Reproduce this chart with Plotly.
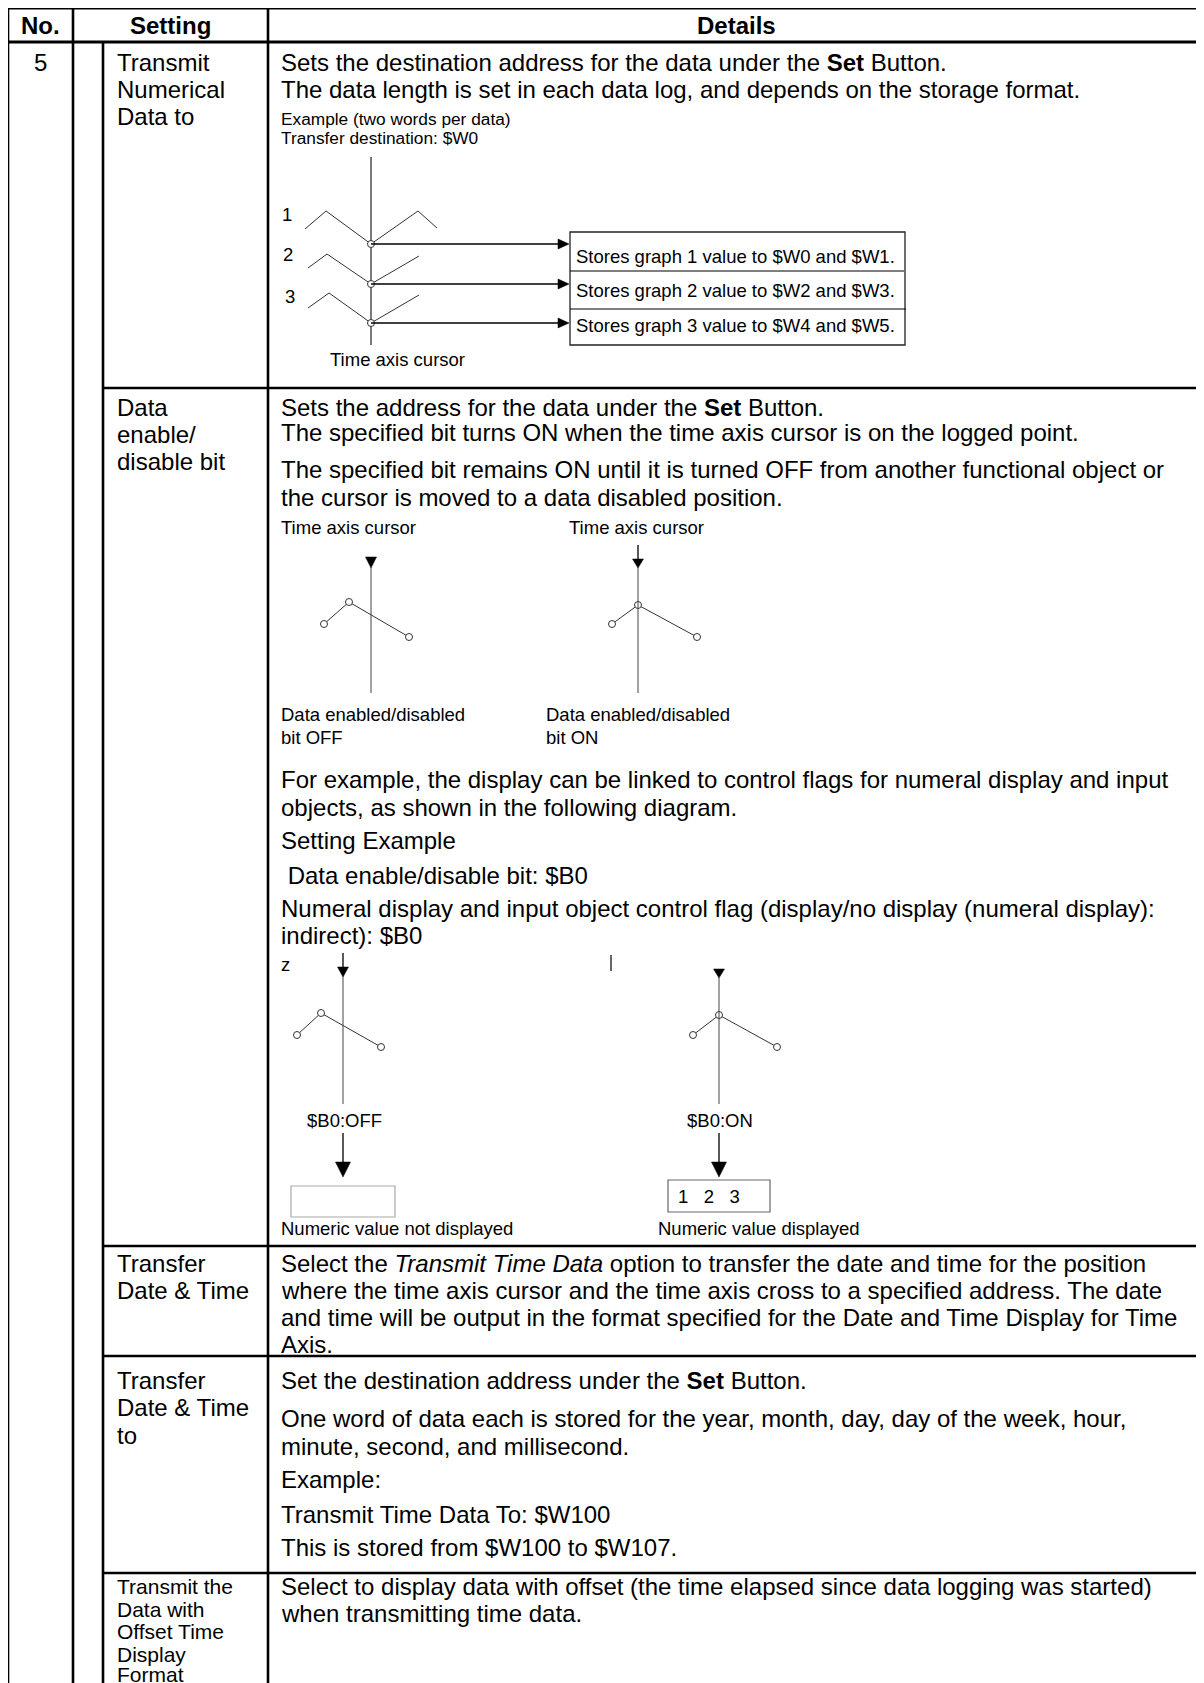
import plotly.graph_objects as go

W, H = 1204, 1683
OFF = 8  # browser body margin; data coordinates are page pixels
FONT = "Liberation Sans, Arial, Helvetica, sans-serif"
BODY = 24
SMALL = 18.5
NOTE = 17.3

# ---------------- table content ----------------
HEADERS = ["No.", "Setting", "Details"]
ITEM_NO = "5"

SETTING_ROWS = [
    ["Transmit", "Numerical", "Data to"],
    ["Data", "enable/", "disable bit"],
    ["Transfer", "Date & Time"],
    ["Transfer", "Date & Time", "to"],
    ["Transmit the", "Data with", "Offset Time", "Display", "Format"],
]
SETTING_Y = [
    [62, 89, 116],
    [407, 434, 461],
    [1263, 1290],
    [1380, 1407, 1435],
    [1586, 1609, 1631, 1654, 1674],
]

DETAIL_LINES = [
    "Sets the destination address for the data under the <b>Set</b> Button.",
    "The data length is set in each data log, and depends on the storage format.",
    "Sets the address for the data under the <b>Set</b> Button.",
    "The specified bit turns ON when the time axis cursor is on the logged point.",
    "The specified bit remains ON until it is turned OFF from another functional object or",
    "the cursor is moved to a data disabled position.",
    "For example, the display can be linked to control flags for numeral display and input",
    "objects, as shown in the following diagram.",
    "Setting Example",
    " Data enable/disable bit: $B0",
    "Numeral display and input object control flag (display/no display (numeral display):",
    "indirect): $B0",
    "Select the <i>Transmit Time Data</i> option to transfer the date and time for the position",
    "where the time axis cursor and the time axis cross to a specified address. The date",
    "and time will be output in the format specified for the Date and Time Display for Time",
    "Axis.",
    "Set the destination address under the <b>Set</b> Button.",
    "One word of data each is stored for the year, month, day, day of the week, hour,",
    "minute, second, and millisecond.",
    "Example:",
    "Transmit Time Data To: $W100",
    "This is stored from $W100 to $W107.",
    "Select to display data with offset (the time elapsed since data logging was started)",
    "when transmitting time data.",
]
DETAIL_Y = [62, 89,
            407, 432, 469, 497,
            779, 807, 840, 875, 908, 935,
            1263, 1290, 1317, 1344,
            1380, 1418, 1446, 1479, 1514, 1547,
            1586, 1613]

# ---------------- diagram content ----------------
EXAMPLE_NOTES = ["Example (two words per data)", "Transfer destination: $W0"]
GRAPH_LABELS = ["1", "2", "3"]
GRAPH_X = [[305, 326, 371, 418, 437], [308, 327, 371, 419], [308, 329, 371, 419]]
GRAPH_Y = [[229, 211, 244, 211, 228], [268, 254, 284, 256], [308, 293, 323, 295]]
STORE_TEXT = ["Stores graph 1 value to $W0 and $W1.",
              "Stores graph 2 value to $W2 and $W3.",
              "Stores graph 3 value to $W4 and $W5."]

BIT_CAPTIONS = [["Data enabled/disabled", "bit OFF"], ["Data enabled/disabled", "bit ON"]]
BIT_X = [[324, 349, 409], [612, 638, 697]]
BIT_Y = [[624, 602, 637], [624, 605, 637]]

FLAG_X = [[297, 321, 381], [693, 719, 777]]
FLAG_Y = [[1035, 1013, 1047], [1035, 1015, 1047]]
FLAG_STATE = ["$B0:OFF", "$B0:ON"]
FLAG_RESULT = ["Numeric value not displayed", "Numeric value displayed"]
FLAG_VALUE = ["", "1   2   3"]

fig = go.Figure()
shapes = []
ann = []
CIRCLE = dict(symbol="circle", size=7, color="white", line=dict(color="#333", width=1))


def text(x, y, s, size=BODY, anchor="left", bold=False):
    ann.append(dict(x=x, y=y, xref="x", yref="y", text=(f"<b>{s}</b>" if bold else s),
                    showarrow=False, xanchor=anchor, yanchor="middle",
                    font=dict(family=FONT, size=size, color="black")))


def line(x0, y0, x1, y1, w=1.0, c="black"):
    shapes.append(dict(type="line", x0=x0, y0=y0, x1=x1, y1=y1, xref="x", yref="y",
                       line=dict(color=c, width=w)))


def tri_down(x, ytop, ybot, half):
    shapes.append(dict(type="path", xref="x", yref="y",
                       path=f"M {x-half} {ytop} L {x+half} {ytop} L {x} {ybot} Z",
                       fillcolor="black", line=dict(color="black", width=0.5)))


def tri_right(xtip, y, length, half):
    shapes.append(dict(type="path", xref="x", yref="y",
                       path=f"M {xtip-length} {y-half} L {xtip-length} {y+half} L {xtip} {y} Z",
                       fillcolor="black", line=dict(color="black", width=0.5)))


def rect(x0, y0, x1, y1, c="black", w=1.0):
    shapes.append(dict(type="rect", xref="x", yref="y", x0=x0, y0=y0, x1=x1, y1=y1,
                       line=dict(color=c, width=w), fillcolor="rgba(0,0,0,0)"))


# ---------------- table grid ----------------
XL, XNO, XSUB, XSET, XR = 8, 73, 103, 268, 1204
TW = 2.6
line(XL, 8, XR, 8, 3)
line(XL, 42, XR, 42, 3)
for yy in [388, 1246, 1356, 1573]:
    line(XSUB, yy, XR, yy, TW)
line(XL, 7, XL, H, TW)
line(XNO, 7, XNO, H, TW)
line(XSUB, 42, XSUB, H, TW)
line(XSET, 7, XSET, H, TW)

text(40, 25, HEADERS[0], size=24, anchor="center", bold=True)
text((XNO + XSET) / 2, 25, HEADERS[1], size=24, anchor="center", bold=True)
text((XSET + XR) / 2, 25, HEADERS[2], size=24, anchor="center", bold=True)
text(40, 62, ITEM_NO, anchor="center")

for i, (rows, ys) in enumerate(zip(SETTING_ROWS, SETTING_Y)):
    for s, yy in zip(rows, ys):
        text(115, yy, s, size=(21 if i == 4 else BODY))

for s, yy in zip(DETAIL_LINES, DETAIL_Y):
    text(279, yy, s)

# ---------------- diagram 1 ----------------
text(279, 119, EXAMPLE_NOTES[0], size=NOTE)
text(279, 138, EXAMPLE_NOTES[1], size=NOTE)
fig.add_trace(go.Scatter(x=[371, 371], y=[157, 345], mode="lines",
                         line=dict(color="#222", width=1.2), hoverinfo="skip"))
lab_x = [287, 288, 290]
lab_y = [214, 254, 296]
for gx, gy, lx, ly, lab in zip(GRAPH_X, GRAPH_Y, lab_x, lab_y, GRAPH_LABELS):
    fig.add_trace(go.Scatter(x=gx, y=gy, mode="lines", line=dict(color="#333", width=1),
                             hoverinfo="skip"))
    text(lx, ly, lab, size=SMALL, anchor="center")
arrow_y = [GRAPH_Y[0][2], GRAPH_Y[1][2], GRAPH_Y[2][2]]
for ay in arrow_y:
    line(371, ay, 560, ay, 1.3)
    tri_right(569, ay, 11, 5)
fig.add_trace(go.Scatter(x=[371, 371, 371], y=arrow_y, mode="markers",
                         marker=CIRCLE, hoverinfo="skip"))
rect(570, 232, 905, 345, c="#222", w=1.3)
line(570, 271, 904, 271, 1.2)
line(570, 309, 906, 309, 1.2)
for s, yy in zip(STORE_TEXT, [256, 290, 325]):
    text(574, yy, s, size=SMALL)
text(397, 359, "Time axis cursor", size=SMALL, anchor="center")

# ---------------- diagram 2 (bit OFF / ON) ----------------
cur_x = [371, 638]
for k in range(2):
    cx = cur_x[k]
    if k == 1:
        line(cx, 545, cx, 560, 1.3)
    tri_down(cx, 557 if k == 0 else 559, 568, 5.5)
    line(cx, 566, cx, 693, 1.0, "#444")
    fig.add_trace(go.Scatter(x=BIT_X[k], y=BIT_Y[k], mode="lines+markers",
                             line=dict(color="#333", width=1),
                             marker=CIRCLE, hoverinfo="skip"))
text(279, 527, "Time axis cursor", size=SMALL)
text(567, 527, "Time axis cursor", size=SMALL)
for k, cx in enumerate([279, 544]):
    text(cx, 714, BIT_CAPTIONS[k][0], size=SMALL)
    text(cx, 737, BIT_CAPTIONS[k][1], size=SMALL)

# ---------------- diagram 3 (flag OFF / ON) ----------------
text(285, 964, "z", size=SMALL, anchor="center")
line(611, 955, 611, 971, 1.2)
fx = [343, 719]
boxes = [(291, 1186, 395, 1217), (668, 1180, 770, 1212)]
for k in range(2):
    cx = fx[k]
    if k == 0:
        line(cx, 953, cx, 969, 1.3)
        tri_down(cx, 967, 977, 5.5)
    else:
        tri_down(cx, 969, 978, 5.5)
    line(cx, 976, cx, 1104, 1.0, "#444")
    fig.add_trace(go.Scatter(x=FLAG_X[k], y=FLAG_Y[k], mode="lines+markers",
                             line=dict(color="#333", width=1),
                             marker=CIRCLE, hoverinfo="skip"))
    text(cx + 1, 1120, FLAG_STATE[k], size=SMALL, anchor="center")
    line(cx, 1133, cx, 1165, 1.3)
    tri_down(cx, 1162, 1177, 7.5)
    x0, y0, x1, y1 = boxes[k]
    rect(x0, y0, x1, y1, c=("#aaa" if k == 0 else "#666"), w=1.2)
    if FLAG_VALUE[k]:
        text(x0 + 8, (y0 + y1) / 2, FLAG_VALUE[k], size=SMALL)
text(279, 1228, FLAG_RESULT[0], size=SMALL)
text(656, 1228, FLAG_RESULT[1], size=SMALL)

fig.update_layout(
    width=W - OFF, height=H - OFF, margin=dict(l=0, r=0, t=0, b=0),
    paper_bgcolor="white", plot_bgcolor="white", showlegend=False,
    xaxis=dict(range=[OFF, W], visible=False, fixedrange=True),
    yaxis=dict(range=[H, OFF], visible=False, fixedrange=True),
    shapes=shapes, annotations=ann,
)
fig.write_html("out.html")
